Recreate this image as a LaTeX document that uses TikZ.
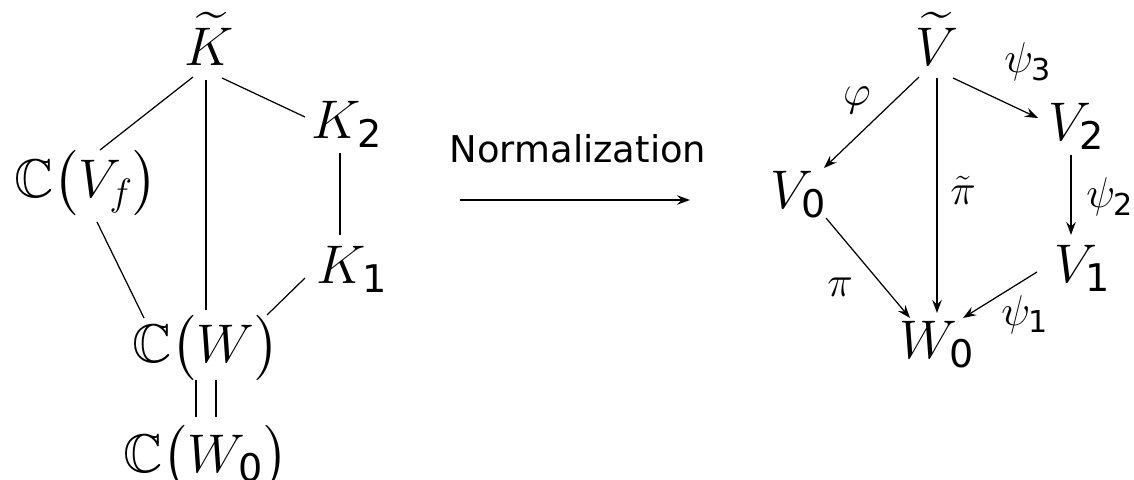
\RequirePackage{fix-cm}
\documentclass[tikz,border=0pt]{standalone}
\usepackage{amsmath,amssymb}
\usepackage{fontspec}
\usepackage{tikz}
\usetikzlibrary{arrows.meta}
\newfontfamily\dejavu{DejaVu Sans}
\newcommand{\sd}[1]{\text{\dejavu #1}}
\tikzset{
  obj/.style = {anchor=base, inner sep=0pt, font=\fontsize{31}{37}\selectfont},
  lbl/.style = {inner sep=0pt, font=\fontsize{24.5}{29}\selectfont},
  txt/.style = {anchor=base, inner sep=0pt, font=\dejavu\fontsize{21}{25}\selectfont},
  ln/.style  = {line width=0.7pt},
  ar/.style  = {-{Stealth[length=2.6mm, width=1.9mm, inset=0.9mm]}, line width=0.7pt},
}

\begin{document}
\begin{tikzpicture}[x=0.02cm, y=-0.02cm]
  \useasboundingbox (0,0) rectangle (1134,480);
  % field extensions
  \node[obj] (kt)  at (209,65)  {$\widetilde{K}$};
  \node[obj] (cvf) at (86,197)  {$\mathbb{C}\bigl(V_f\bigr)$};
  \node[obj] (k2)  at (347,138) {$K_{\sd{2}}$};
  \node[obj] (k1)  at (352,283) {$K_{\sd{1}}$};
  \node[obj] (cw)  at (206,362) {$\mathbb{C}\bigl(W\bigr)$};
  \node[obj] (cw0) at (206,472) {$\mathbb{C}\bigl(W_{\sd{0}}\bigr)$};
  \draw[ln] ([shift={(-16,12)}]kt.base) -- ([shift={(14,-47)}]cvf.base);
  \draw[ln] ([shift={(-3,15)}]kt.base)  -- ([shift={(0,-52)}]cw.base);
  \draw[ln] ([shift={(13,13)}]kt.base)  -- ([shift={(-42,-21)}]k2.base);
  \draw[ln] ([shift={(-7,15)}]k2.base)  -- ([shift={(-12,-48)}]k1.base);
  \draw[ln] ([shift={(-47,-5)}]k1.base) -- ([shift={(61,-47)}]cw.base);
  \draw[ln] ([shift={(11,25)}]cvf.base) -- ([shift={(-62,-44)}]cw.base);
  \draw[ln] ([shift={(-10,18)}]cw.base) -- ([shift={(-10,-55)}]cw0.base);
  \draw[ln] ([shift={(10,18)}]cw.base)  -- ([shift={(10,-55)}]cw0.base);
  % normalization arrow
  \node[txt] (norm) at (578,162) {Normalization};
  \coordinate (na) at (460,200);
  \coordinate (nb) at (690,200);
  \draw[ar] (na) -- (nb);
  % varieties
  \node[obj] (vt) at (937,65)  {$\widetilde{V}$};
  \node[obj] (v2) at (1077,140) {$V_{\sd{2}}$};
  \node[obj] (v0) at (799,208) {$V_{\sd{0}}$};
  \node[obj] (v1) at (1083,282) {$V_{\sd{1}}$};
  \node[obj] (w0) at (937,358) {$W_{\sd{0}}$};
  \draw[ar] ([shift={(-18,12)}]vt.base) -- ([shift={(25,-40)}]v0.base);
  \draw[ar] ([shift={(0,13)}]vt.base)   -- ([shift={(0,-45)}]w0.base);
  \draw[ar] ([shift={(16,13)}]vt.base)  -- ([shift={(-39,-22)}]v2.base);
  \draw[ar] ([shift={(-6,15)}]v2.base)  -- ([shift={(-12,-47)}]v1.base);
  \draw[ar] ([shift={(-46,-10)}]v1.base) -- ([shift={(26,-40)}]w0.base);
  \draw[ar] ([shift={(27,10)}]v0.base)  -- ([shift={(-27,-40)}]w0.base);
  \node[lbl] (lphi)  at (857,100)  {$\varphi$};
  \node[lbl] (lpsi3) at (1028,62)  {$\psi_{\sd{3}}$};
  \node[lbl] (lpit)  at (963,190)  {$\tilde{\pi}$};
  \node[lbl] (lpsi2) at (1110,197) {$\psi_{\sd{2}}$};
  \node[lbl] (lpi)   at (840,287)  {$\pi$};
  \node[lbl] (lpsi1) at (1025,315) {$\psi_{\sd{1}}$};
\end{tikzpicture}
\end{document}
